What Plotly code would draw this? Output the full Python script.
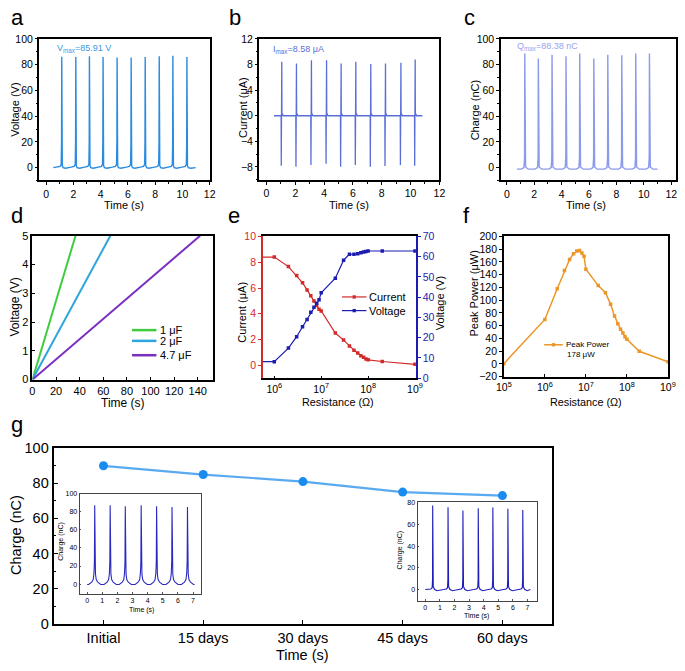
import plotly.graph_objects as go

W, H = 685, 671
FONT = "Liberation Sans, Arial, sans-serif"

# ---------------- data ----------------
# (a) voltage spikes
a_peak_t = [1.15, 2.18, 3.18, 4.18, 5.21, 6.24, 7.27, 8.30, 9.30, 10.33]
a_peak_v = [86.1, 86.0, 86.6, 86.0, 85.6, 85.6, 86.0, 86.6, 87.0, 86.0]
a_span = [0.53, 10.97]
a_shape_dt = [-0.35, -0.12, -0.04, -0.015, 0.0, 0.015, 0.04, 0.10, 0.28]
a_shape_v = [0.4, 1.0, 2.5, 20.0, "P", 18.0, 1.5, 0.0, -0.5]

# (b) current spikes
b_peak_t = [1.06, 2.08, 3.12, 4.17, 5.18, 6.20, 7.24, 8.26, 9.33, 10.32]
b_pos = [8.44, 8.18, 8.69, 8.69, 8.18, 8.44, 8.08, 8.18, 8.28, 8.80]
b_neg = [-7.80, -7.95, -7.70, -7.50, -7.95, -7.70, -7.95, -7.85, -7.70, -7.80]
b_span = [0.52, 10.82]
b_shape_dt = [-0.10, -0.045, -0.035, -0.02, -0.008, 0.0, 0.012, 0.04, 0.10]
b_shape_v = [0.0, 0.0, "N", 0.0, 0.3, "P", 0.0, 0.3, 0.0]

# (c) charge spikes
c_peak_t = [1.31, 2.30, 3.30, 4.32, 5.32, 6.35, 7.37, 8.39, 9.41, 10.41]
c_peak_q = [88.6, 84.8, 87.8, 86.6, 88.6, 84.8, 87.8, 87.3, 88.6, 88.6]
c_span = [0.74, 11.0]
c_shape_dt = [-0.25, -0.06, -0.015, 0.0, 0.015, 0.06, 0.25]
c_shape_v = [-1.2, 0.0, 8.0, "P", 8.0, 0.5, -1.2]

# (d) charging curves
d_labels = ["1 μF", "2 μF", "4.7 μF"]
d_time = [[0, 36.5], [0, 66.0], [0, 142.0]]
d_volt = [[0, 5.0], [0, 5.0], [0, 5.0]]
d_colors = ["#3fcc3f", "#2ea6dc", "#7a2fc0"]

# (e) current & voltage vs resistance
e_res = [1e5, 1e6, 2e6, 3e6, 4e6, 5e6, 6e6, 7e6, 8e6, 9e6, 1e7, 2e7, 3e7, 4e7,
         5e7, 6e7, 7e7, 8e7, 9e7, 1e8, 2e8, 1e9]
e_current = [8.40, 8.40, 7.66, 6.96, 6.40, 5.85, 5.40, 5.00, 4.65, 4.35, 4.22, 2.51,
             1.96, 1.50, 1.18, 0.95, 0.75, 0.63, 0.50, 0.43, 0.30, 0.08]
e_voltage = [8.2, 8.2, 14.9, 20.5, 25.4, 29.0, 32.6, 35.0, 37.0, 38.7, 42.2, 49.4,
             58.3, 61.2, 61.2, 61.5, 62.0, 62.3, 62.6, 62.8, 62.8, 62.8]

# (f) peak power
f_res = [1e5, 1e6, 2e6, 3e6, 4e6, 5e6, 6e6, 7e6, 8e6, 9e6, 1e7, 2e7, 3e7, 4e7,
         5e7, 6e7, 7e7, 8e7, 9e7, 1e8, 2e8, 1e9]
f_power = [0.4, 69.8, 117.8, 146.4, 163.8, 172.9, 177.0, 178.0, 174.0, 169.0, 148.4,
           122.9, 111.7, 93.8, 75.0, 63.2, 54.5, 48.4, 42.8, 38.7, 19.8, 3.5]

# (g) stability
g_cats = ["Initial", "15 days", "30 days", "45 days", "60 days"]
g_charge = [90, 85, 81, 75, 73]

# insets of (g)
gi1_peak_t = [0.50, 1.52, 2.52, 3.57, 4.59, 5.61, 6.63]
gi1_peak_q = [87.4, 87.4, 86.3, 87.4, 86.3, 85.3, 85.3]
gi1_span = [0.0, 7.1]
gi1_shape_dt = [-0.40, -0.20, -0.10, -0.05, -0.02, 0.0, 0.02, 0.05, 0.10, 0.20, 0.40]
gi1_shape_v = [-0.5, 2.0, 5.0, 12.0, 25.0, "P", 22.0, 11.0, 5.0, 2.0, -0.5]

gi2_peak_t = [0.51, 1.56, 2.58, 3.63, 4.63, 5.66, 6.68]
gi2_peak_q = [77.0, 75.5, 72.5, 74.6, 75.2, 74.0, 73.0]
gi2_span = [0.0, 7.2]
gi2_shape_dt = [-0.30, -0.12, -0.035, -0.01, 0.0, 0.012, 0.04, 0.12, 0.30]
gi2_shape_v = [0.3, 0.8, 2.0, 10.0, "P", 12.0, 3.0, 0.5, -0.8]


def train(span, base, tpk, shape_dt, shape_v, P, N=None):
    xs, ys = [span[0]], [base]
    for i, tp in enumerate(tpk):
        for dt, v in zip(shape_dt, shape_v):
            xs.append(tp + dt)
            if v == "P":
                ys.append(P[i])
            elif v == "N":
                ys.append(N[i])
            else:
                ys.append(v)
    xs.append(span[1])
    ys.append(base)
    return xs, ys


def dx(l, r):
    return [l / W, min(1.0, r / W)]


def dy(t, b):
    return [1 - b / H, 1 - t / H]


def axis(dom, rng, anchor, fs=10.5, color="black", lw=1.5, mirror=True, **kw):
    d = dict(domain=dom, range=rng, anchor=anchor, showline=True, linecolor=color,
             linewidth=lw, mirror=mirror, ticks="outside", ticklen=3, tickwidth=1,
             tickcolor=color, showgrid=False, zeroline=False,
             tickfont=dict(size=fs, color=color, family=FONT))
    d.update(kw)
    return d


fig = go.Figure()
ann = []
shapes = []


def txt(x, y, s, size, color="black", angle=0, xanchor="center", yanchor="middle"):
    ann.append(dict(x=x / W, y=1 - y / H, xref="paper", yref="paper", text=s,
                    showarrow=False, textangle=angle, xanchor=xanchor, yanchor=yanchor,
                    font=dict(size=size, color=color, family=FONT)))


MINOR = dict(ticks="outside", ticklen=2, tickwidth=1, tickcolor="black")
MINOR_IN = dict(ticks="inside", ticklen=2.5, tickwidth=1, tickcolor="black")

# ---- a
xa, ya = train(a_span, 0.0, a_peak_t, a_shape_dt, a_shape_v, a_peak_v)
fig.add_trace(go.Scatter(x=xa, y=ya, mode="lines", line=dict(color="#2a8ce0", width=1.4),
                         xaxis="x", yaxis="y"))
# ---- b
xb, yb = train(b_span, 0.0, b_peak_t, b_shape_dt, b_shape_v, b_pos, b_neg)
fig.add_trace(go.Scatter(x=xb, y=yb, mode="lines", line=dict(color="#5a6ed8", width=1.3),
                         xaxis="x2", yaxis="y2"))
# ---- c
xc, yc = train(c_span, -1.2, c_peak_t, c_shape_dt, c_shape_v, c_peak_q)
fig.add_trace(go.Scatter(x=xc, y=yc, mode="lines", line=dict(color="#8c9aea", width=1.4),
                         xaxis="x3", yaxis="y3"))
# ---- d
for t, v, c in zip(d_time, d_volt, d_colors):
    fig.add_trace(go.Scatter(x=t, y=v, mode="lines", line=dict(color=c, width=2),
                             xaxis="x4", yaxis="y4"))
# ---- e
RED, BLUE = "#d22a2a", "#1c1cb0"
fig.add_trace(go.Scatter(x=e_res, y=e_current, mode="lines+markers",
                         line=dict(color=RED, width=1.2),
                         marker=dict(symbol="square", size=3.5, color=RED),
                         xaxis="x5", yaxis="y5"))
fig.add_trace(go.Scatter(x=e_res, y=e_voltage, mode="lines+markers",
                         line=dict(color=BLUE, width=1.2),
                         marker=dict(symbol="square", size=3.5, color=BLUE),
                         xaxis="x5", yaxis="y6"))
# ---- f
ORANGE = "#eb9628"
fig.add_trace(go.Scatter(x=f_res, y=f_power, mode="lines+markers",
                         line=dict(color=ORANGE, width=1.5),
                         marker=dict(symbol="square", size=3.5, color=ORANGE),
                         xaxis="x6", yaxis="y7"))
# ---- g
fig.add_trace(go.Scatter(x=g_cats, y=g_charge, mode="lines+markers",
                         line=dict(color="#5aaaf0", width=2.2),
                         marker=dict(size=9, color="#1a8cf0"),
                         xaxis="x7", yaxis="y8", cliponaxis=False))
# insets
x1, y1 = train(gi1_span, -0.5, gi1_peak_t, gi1_shape_dt, gi1_shape_v, gi1_peak_q)
fig.add_trace(go.Scatter(x=x1, y=y1, mode="lines", line=dict(color="#2a2ac0", width=1.1),
                         xaxis="x8", yaxis="y9"))
x2, y2 = train(gi2_span, 0.3, gi2_peak_t, gi2_shape_dt, gi2_shape_v, gi2_peak_q)
fig.add_trace(go.Scatter(x=x2, y=y2, mode="lines", line=dict(color="#1e1eb8", width=1.1),
                         xaxis="x9", yaxis="y10"))

lay = dict(width=W, height=H, margin=dict(l=0, r=0, t=0, b=0), showlegend=False,
           paper_bgcolor="white", plot_bgcolor="white",
           font=dict(family=FONT, color="black"))

# a
lay["xaxis"] = axis(dx(32, 206.5), [-0.5, 12], "y", tickvals=list(range(0, 13, 2)),
                    minor=dict(dtick=1, **MINOR))
lay["yaxis"] = axis(dy(31.7, 176.7), [-10, 100], "x", tickvals=list(range(0, 101, 20)),
                    minor=dict(dtick=10, **MINOR), ticklen=2.5)
# b
lay["xaxis2"] = axis(dx(257.3, 441.7), [-0.5, 12], "y2", tickvals=list(range(0, 13, 2)),
                     minor=dict(dtick=1, **MINOR))
lay["yaxis2"] = axis(dy(31.7, 176.0), [-10, 12], "x2", tickvals=[-8, -4, 0, 4, 8, 12],
                     minor=dict(dtick=2, **MINOR), ticklen=2.5)
# c
lay["xaxis3"] = axis(dx(504.3, 684), [-0.46, 12.35], "y3", tickvals=list(range(0, 13, 2)),
                     minor=dict(dtick=1, **MINOR))
lay["yaxis3"] = axis(dy(31.7, 176.7), [-10, 100], "x3", tickvals=list(range(0, 101, 20)),
                     minor=dict(dtick=10, **MINOR), ticklen=2.5)
# d
lay["xaxis4"] = axis(dx(25, 210), [0, 153], "y4", fs=11, ticks="inside",
                     tickvals=list(range(0, 141, 20)))
lay["yaxis4"] = axis(dy(233.3, 380.7), [0, 5], "x4", fs=11, ticks="inside",
                     tickvals=[0, 1, 2, 3, 4, 5])
# e
lay["xaxis5"] = axis(dx(261, 417.7), [5.757, 9.02], "y5", type="log", ticks="inside",
                     tickvals=[1e6, 1e7, 1e8, 1e9],
                     ticktext=["10<sup>6</sup>", "10<sup>7</sup>", "10<sup>8</sup>", "10<sup>9</sup>"])
lay["yaxis5"] = axis(dy(234, 379.3), [-1, 10], "x5", color=RED, mirror=False,
                     tickvals=[0, 2, 4, 6, 8, 10])
lay["yaxis6"] = axis(dy(234, 379.3), [0, 70], "x5", color=BLUE, mirror=False,
                     overlaying="y5", side="right", tickvals=list(range(0, 71, 10)))
# f
lay["xaxis6"] = axis(dx(507.7, 675.7), [5, 9], "y7", type="log", ticks="inside",
                     tickvals=[1e5, 1e6, 1e7, 1e8, 1e9],
                     ticktext=["10<sup>5</sup>", "10<sup>6</sup>", "10<sup>7</sup>",
                               "10<sup>8</sup>", "10<sup>9</sup>"])
lay["yaxis7"] = axis(dy(234, 377.7), [-20, 200], "x6", tickvals=list(range(-20, 201, 20)))
# g
lay["xaxis7"] = axis(dx(46.7, 557.3), [-0.5, 4.5], "y8", fs=14.5, lw=2, type="category",
                     ticks="inside", ticklen=4)
lay["yaxis8"] = axis(dy(451, 630.7), [0, 100], "x7", fs=14.5, lw=2, ticks="inside",
                     tickvals=list(range(0, 101, 20)), ticklen=4,
                     minor=dict(dtick=10, **MINOR_IN))
# insets
INS = dict(fs=7, lw=1, ticks="inside", ticklen=1.5, tickcolor="#555", linecolor="#444")
lay["xaxis8"] = axis(dx(73.3, 197.7), [-0.5, 7.53], "y9", tickvals=list(range(0, 8)), **INS)
lay["yaxis9"] = axis(dy(497.7, 600.3), [-11, 100], "x8", tickvals=list(range(0, 101, 20)), **INS)
lay["xaxis9"] = axis(dx(419.3, 541.3), [-0.53, 7.63], "y10", tickvals=list(range(0, 8)), **INS)
lay["yaxis10"] = axis(dy(506.3, 607.3), [-10, 80], "x9", tickvals=list(range(0, 81, 20)), **INS)

# inset white backgrounds (drawn under inset traces)
for (l, r, t, b) in [(73.3, 197.7, 497.7, 600.3), (419.3, 541.3, 506.3, 607.3)]:
    shapes.append(dict(type="rect", xref="paper", yref="paper", x0=l / W, x1=r / W,
                       y0=1 - b / H, y1=1 - t / H, fillcolor="white",
                       line=dict(width=0), layer="below"))

# axis titles
for cx in (119, 349.5, 592):
    txt(cx, 201.5, "Time (s)", 11)
txt(7, 104.5, "Voltage (V)", 11, angle=-90)
txt(240, 102, "Current (μA)", 11, angle=-90)
txt(478, 104, "Charge (nC)", 11, angle=-90)
txt(117.5, 404.5, "Time (s)", 12)
txt(7, 306, "Voltage (V)", 12, angle=-90)
txt(338, 404, "Resistance (Ω)", 10.8)
txt(591.7, 404, "Resistance (Ω)", 10.8)
txt(240, 311.7, "Current (μA)", 11, angle=-90)
txt(441.7, 302, "Voltage (V)", 11, angle=-90)
txt(476.7, 293, "Peak Power (μW)", 11, angle=-90)
txt(8, 540, "Charge (nC)", 14.5, angle=-90)
txt(302, 662.5, "Time (s)", 14.5)
txt(54, 546, "Charge (nC)", 7, angle=-90)
txt(136.7, 616.5, "Time (s)", 7)
txt(401, 555, "Charge (nC)", 7, angle=-90)
txt(480, 623, "Time (s)", 7)

# in-plot labels
txt(48, 41, "V<sub>max</sub>=85.91 V", 9, color="#3a98e0", xanchor="left")
txt(269, 43, "I<sub>max</sub>=8.58 μA", 9, color="#5a6ed8", xanchor="left")
txt(519, 39, "Q<sub>max</sub>=88.38 nC", 9, color="#98a4ee", xanchor="left")

# panel letters
for lx, ly, s in [(1, 10, "a"), (224, 10, "b"), (465, 10, "c"),
                  (1, 212.5, "d"), (223, 212.5, "e"), (464, 212.5, "f"), (1, 427, "g")]:
    txt(lx, ly, s, 22, xanchor="left")


# legends (drawn by hand to match the compact spacing)
def leg_line(x0, x1, y, color, width=2.5, marker=False):
    shapes.append(dict(type="line", xref="paper", yref="paper", x0=x0 / W, x1=x1 / W,
                       y0=1 - y / H, y1=1 - y / H, line=dict(color=color, width=width)))
    if marker:
        m = (x0 + x1) / 2
        shapes.append(dict(type="rect", xref="paper", yref="paper", x0=(m - 1.7) / W,
                           x1=(m + 1.7) / W, y0=1 - (y + 1.7) / H, y1=1 - (y - 1.7) / H,
                           fillcolor=color, line=dict(width=0)))


for lab, c, yy in zip(d_labels, d_colors, [330, 341, 355.7]):
    leg_line(127, 152, yy, c)
    txt(154, yy, lab, 11, xanchor="left")
for lab, c, yy in [("Current", RED, 296), ("Voltage", BLUE, 310)]:
    leg_line(342, 367, yy, c, width=1.2, marker=True)
    txt(368, yy, lab, 11, xanchor="left")
leg_line(549, 568, 345, ORANGE, width=1.5, marker=True)
txt(569, 345, "Peak Power", 8, xanchor="left")
txt(587, 355, "178 μW", 8)

lay["annotations"] = ann
lay["shapes"] = shapes
fig.update_layout(**lay)
fig.write_html("out.html")
